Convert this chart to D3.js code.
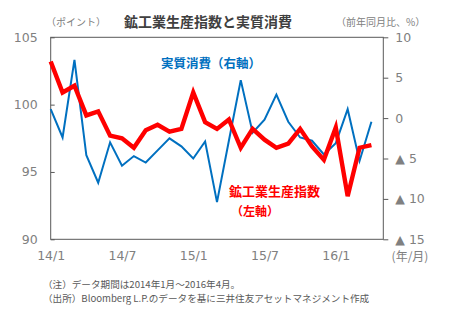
<!DOCTYPE html>
<html><head><meta charset="utf-8">
<script src="https://cdn.jsdelivr.net/npm/d3@7"></script>
<style>
body{margin:0;background:#fff;}
text{font-family:"Noto Sans CJK JP","Noto Sans",sans-serif;}
</style></head><body>
<svg id="c" width="450" height="325"></svg>
<script>
// Data: monthly, Jan 2014 .. Apr 2016
const months = ["14/1","14/2","14/3","14/4","14/5","14/6","14/7","14/8","14/9","14/10","14/11","14/12",
  "15/1","15/2","15/3","15/4","15/5","15/6","15/7","15/8","15/9","15/10","15/11","15/12",
  "16/1","16/2","16/3","16/4"];
const industrialProduction = [103.2,100.9,101.4,99.2,99.5,97.7,97.5,96.8,98.1,98.5,98.0,98.2,
  100.9,98.7,98.2,98.9,96.8,98.2,97.4,96.8,97.1,98.2,96.9,95.9,98.3,93.2,96.8,97.0];
const realConsumption = [1.1,-2.4,7.2,-4.6,-8.0,-3.0,-5.9,-4.7,-5.5,-4.0,-2.5,-3.5,
  -5.0,-2.9,-10.4,-2.8,4.7,-1.8,-0.2,2.9,-0.45,-2.4,-2.8,-4.5,-3.1,1.1,-5.3,-0.45];
const leftTicks = [90,95,100,105];
const rightTicks = [-15,-10,-5,0,5,10];
const xTickLabels = ["14/1","14/7","15/1","15/7","16/1"];

const svg = d3.select("#c");
const L = 50.7, R = 383.3, T = 37.3, B = 239.3;
const x = d3.scaleLinear().domain([0, 28]).range([L, R]);
const yL = d3.scaleLinear().domain([90, 105]).range([B, T]);
const yR = d3.scaleLinear().domain([-15, 10]).range([B, T]);
const grey = "#595959", lgrey = "#808080";

// frame
svg.append("rect").attr("x",L).attr("y",T).attr("width",R-L).attr("height",B-T)
  .attr("fill","none").attr("stroke",grey).attr("stroke-width",1);

// left axis
const la = svg.append("g").attr("transform",`translate(${L},0)`)
  .call(d3.axisLeft(yL).tickValues(leftTicks).tickSize(-4).tickPadding(13).tickFormat(d3.format("d")));
la.select(".domain").remove();
la.selectAll("line").attr("stroke",grey);
la.selectAll("text").attr("fill",lgrey).style("font-size","12.5px").style("font-family","'DejaVu Sans',sans-serif");

// right axis
const ra = svg.append("g").attr("transform",`translate(${R},0)`)
  .call(d3.axisRight(yR).tickValues(rightTicks).tickSize(5).tickPadding(7)
    .tickFormat(d => d < 0 ? "▲ " + (-d) : String(d)));
ra.select(".domain").remove();
ra.selectAll("line").attr("stroke",grey);
ra.selectAll("text").attr("fill",lgrey).style("font-size","12.5px").style("font-family","'DejaVu Sans',sans-serif");

// x axis labels
const xa = svg.append("g").attr("transform",`translate(0,${B})`)
  .call(d3.axisBottom(x).tickValues(xTickLabels.map(l => months.indexOf(l))).tickSize(0).tickPadding(12)
    .tickFormat(i => months[i]));
xa.select(".domain").remove();
xa.selectAll("text").attr("fill",lgrey).style("font-size","12.5px").style("font-family","'DejaVu Sans',sans-serif");
svg.append("text").attr("x",410).attr("y",261).attr("text-anchor","middle")
  .attr("fill",lgrey).style("font-size","12px").text("(年/月)");

// lines
svg.append("path").datum(realConsumption)
  .attr("fill","none").attr("stroke","#0070c0").attr("stroke-width",2).attr("stroke-linejoin","miter")
  .attr("d", d3.line().x((d,i)=>x(i)).y(d=>yR(d)));
svg.append("path").datum(industrialProduction)
  .attr("fill","none").attr("stroke","#ff0000").attr("stroke-width",4.4).attr("stroke-linejoin","miter")
  .attr("d", d3.line().x((d,i)=>x(i)).y(d=>yL(d)));

// titles
svg.append("text").attr("x",208).attr("y",27).attr("text-anchor","middle")
  .attr("fill","#404040").style("font-size","14px").style("font-weight","bold").text("鉱工業生産指数と実質消費");
svg.append("text").attr("x",46).attr("y",26).attr("fill",lgrey).style("font-size","10px").text("（ポイント）");
svg.append("text").attr("x",336).attr("y",26).attr("fill",lgrey).style("font-size","10px").text("（前年同月比、%）");

// series labels
svg.append("text").attr("x",161).attr("y",68).attr("fill","#0070c0").style("font-size","12.5px").style("font-weight","bold").text("実質消費（右軸）");
svg.append("text").attr("x",229).attr("y",196).attr("fill","#ff0000").style("font-size","13px").style("font-weight","bold").text("鉱工業生産指数");
svg.append("text").attr("x",231).attr("y",216).attr("fill","#ff0000").style("font-size","12px").style("font-weight","bold").text("（左軸）");

// notes
svg.append("text").attr("x",43).attr("y",287.5).attr("fill",grey).style("font-size","9.6px").text("（注）データ期間は2014年1月～2016年4月。");
svg.append("text").attr("x",43).attr("y",301.5).attr("fill",grey).style("font-size","9.6px").text("（出所）Bloomberg L.P.のデータを基に三井住友アセットマネジメント作成");
</script></body></html>
